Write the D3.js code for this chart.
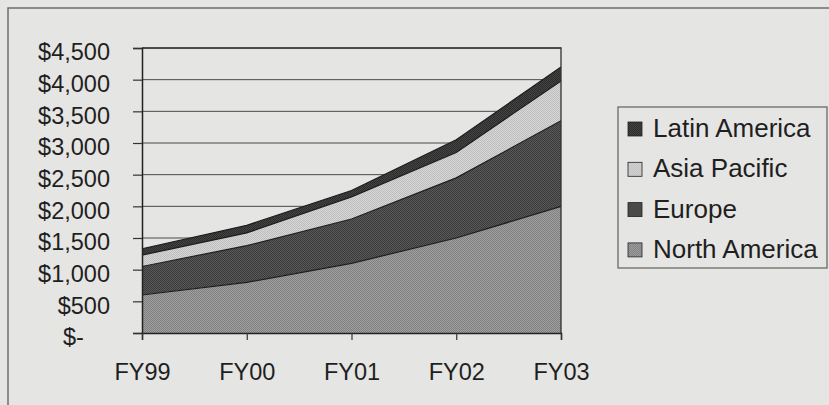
<!DOCTYPE html>
<html>
<head>
<meta charset="utf-8">
<script src="https://cdn.jsdelivr.net/npm/d3@7"></script>
<style>
  html, body { margin: 0; padding: 0; background: #e5e5e3; }
  svg { display: block; }
  text { font-family: "Liberation Sans", Arial, sans-serif; fill: #1f1f1f; }
</style>
</head>
<body>
<script>
// Regional revenue, $ millions, fiscal years
const years = ["FY99", "FY00", "FY01", "FY02", "FY03"];
const northAmerica = [600, 800, 1100, 1500, 2000];
const europe       = [450, 580, 700, 950, 1350];
const asiaPacific  = [180, 200, 350, 400, 630];
const latinAmerica = [100, 120, 100, 200, 220];
const yTicks = [0, 500, 1000, 1500, 2000, 2500, 3000, 3500, 4000, 4500];
const regions = ["North America", "Europe", "Asia Pacific", "Latin America"];
const legendOrder = ["Latin America", "Asia Pacific", "Europe", "North America"];

const W = 829, H = 405;
const plot = { left: 142, right: 561, top: 48, bottom: 333 };

const svg = d3.select("body").append("svg").attr("width", W).attr("height", H);

// Dithered fills for each region
const fills = {
  "North America": ["#7f7f7f", "#a0a0a0"],
  "Europe":        ["#3a3a3a", "#5a5a5a"],
  "Asia Pacific":  ["#bebebe", "#d6d6d6"],
  "Latin America": ["#2c2c2c", "#444444"]
};
const defs = svg.append("defs");
regions.forEach((r, i) => {
  const p = defs.append("pattern").attr("id", "pat" + i)
    .attr("width", 2).attr("height", 2).attr("patternUnits", "userSpaceOnUse");
  p.append("rect").attr("width", 2).attr("height", 2).attr("fill", fills[r][1]);
  p.append("rect").attr("width", 1).attr("height", 1).attr("fill", fills[r][0]);
  p.append("rect").attr("x", 1).attr("y", 1).attr("width", 1).attr("height", 1).attr("fill", fills[r][0]);
});
const fillOf = r => "url(#pat" + regions.indexOf(r) + ")";

// Outer frame
svg.append("rect").attr("x", 8).attr("y", 8).attr("width", W).attr("height", H)
  .attr("fill", "none").attr("stroke", "#6e6e6e").attr("stroke-width", 1.5);

const x = d3.scalePoint().domain(years).range([plot.left, plot.right]);
const y = d3.scaleLinear().domain([0, 4500]).range([plot.bottom, plot.top]);

// Gridlines
svg.append("g").selectAll("line").data(yTicks.filter(d => d > 0)).join("line")
  .attr("x1", plot.left).attr("x2", plot.right)
  .attr("y1", d => y(d)).attr("y2", d => y(d))
  .attr("stroke", "#4a4a4a").attr("stroke-width", 1);

// Stacked areas
const table = years.map((yr, i) => ({
  year: yr,
  "North America": northAmerica[i],
  "Europe": europe[i],
  "Asia Pacific": asiaPacific[i],
  "Latin America": latinAmerica[i]
}));
const stacked = d3.stack().keys(regions)(table);
const area = d3.area()
  .x(d => x(d.data.year)).y0(d => y(d[0])).y1(d => y(d[1]));
const topLine = d3.line().x(d => x(d.data.year)).y(d => y(d[1]));

svg.append("g").selectAll("path").data(stacked).join("path")
  .attr("d", area).attr("fill", d => fillOf(d.key));
svg.append("g").selectAll("path").data(stacked).join("path")
  .attr("d", topLine).attr("fill", "none")
  .attr("stroke", "#1e1e1e").attr("stroke-width", 1.2);

// Plot frame: top and right edges
svg.append("path")
  .attr("d", `M${plot.left},${plot.top}H${plot.right}V${plot.bottom}`)
  .attr("fill", "none").attr("stroke", "#333").attr("stroke-width", 1.3);

// Y axis
const yAxis = svg.append("g").attr("transform", `translate(${plot.left},0)`)
  .call(d3.axisLeft(y).tickValues(yTicks).tickSize(9).tickPadding(0)
    .tickFormat(d => d === 0 ? "$-" : "$" + d3.format(",")(d)));
yAxis.select(".domain").attr("stroke", "#222").attr("stroke-width", 1.5);
yAxis.selectAll(".tick line").attr("stroke", "#333").attr("stroke-width", 1.2);
yAxis.selectAll(".tick text")
  .attr("x", -32).attr("dy", "0.5em")
  .attr("font-size", 23.5).style("fill", "#1f1f1f")
  .attr("font-family", "Liberation Sans, Arial, sans-serif");
yAxis.selectAll(".tick").filter(d => d === 0).select("text").attr("x", -79).attr("text-anchor", "start");

// X axis
const xAxis = svg.append("g").attr("transform", `translate(0,${plot.bottom})`)
  .call(d3.axisBottom(x).tickSize(7).tickPadding(0));
xAxis.select(".domain").attr("stroke", "#222").attr("stroke-width", 1.5);
xAxis.selectAll(".tick line").attr("stroke", "#333").attr("stroke-width", 1.2);
xAxis.selectAll(".tick text")
  .attr("y", 47).attr("dy", 0)
  .attr("font-size", 23.5).style("fill", "#1f1f1f")
  .attr("font-family", "Liberation Sans, Arial, sans-serif");

// Legend
const lg = svg.append("g");
lg.append("rect").attr("x", 618).attr("y", 107).attr("width", 209).attr("height", 161)
  .attr("fill", "none").attr("stroke", "#6a6a6a").attr("stroke-width", 1.3);
const item = lg.selectAll("g.item").data(legendOrder).join("g")
  .attr("class", "item")
  .attr("transform", (d, i) => `translate(628,${122 + i * 40.3})`);
item.append("rect").attr("width", 14).attr("height", 14)
  .attr("fill", d => fillOf(d)).attr("stroke", "#222").attr("stroke-width", 0.8);
item.append("text").attr("x", 25).attr("y", 15)
  .attr("font-size", 26).text(d => d);
</script>
</body>
</html>
